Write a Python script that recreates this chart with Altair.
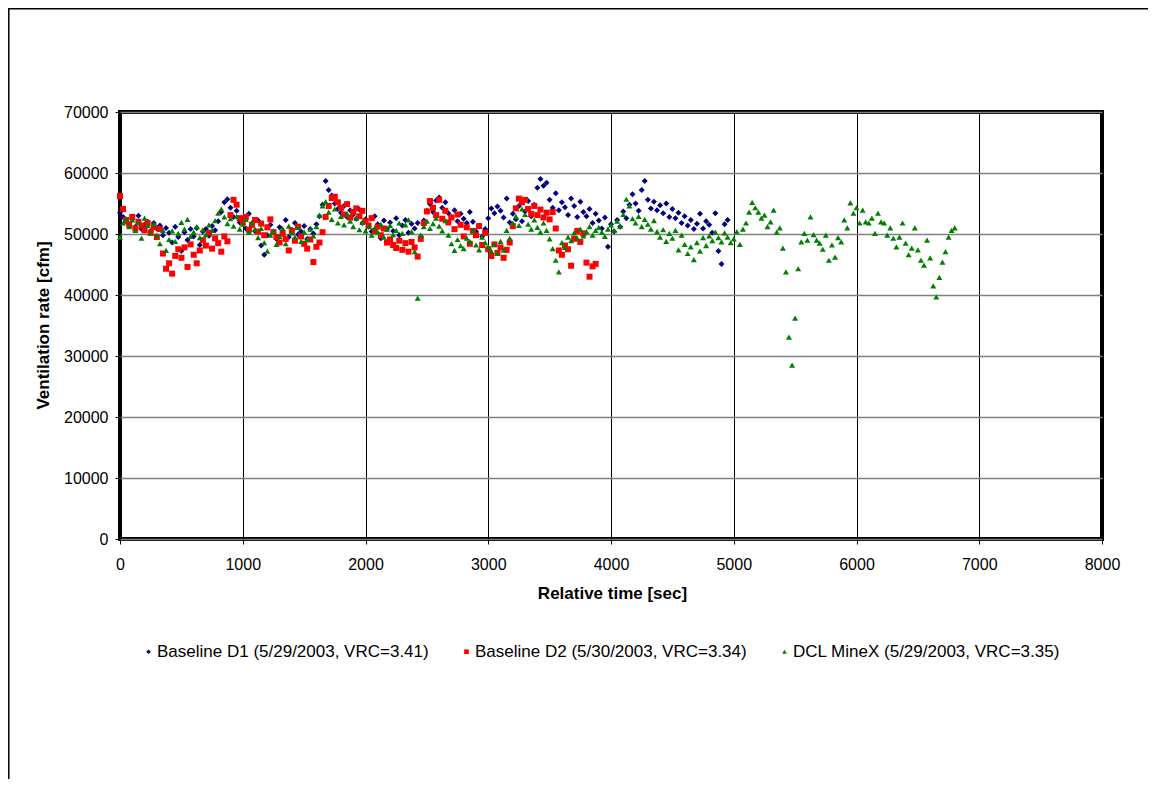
import altair as alt
import pandas as pd

# sampling interval of the logged data [sec]
sample_step_sec = 25

series_names = [
    "Baseline D1 (5/29/2003, VRC=3.41)",
    "Baseline D2 (5/30/2003, VRC=3.34)",
    "DCL MineX (5/29/2003, VRC=3.35)",
]
series_colors = ["#000080", "#FF0000", "#008000"]
series_shapes = ["diamond", "square", "triangle-up"]

# Baseline D1, t = 0 .. 4950 s
d1_cfm = [
    53500, 52800, 52100, 51600, 52400, 51200, 53000, 50800,
    51500, 52000, 50500, 51800, 50900, 51400, 49800, 51000,
    50200, 48600, 51200, 49500, 47200, 50300, 49000, 50800,
    49600, 51000, 48200, 50400, 50800, 49700, 51300, 50600,
    52100, 53600, 55200, 55700, 54300, 52800, 53800, 51900,
    52600, 50900, 53300, 51700, 50500, 52200, 48100, 46600,
    49800, 51500, 50300, 49200, 51100, 50000, 52300, 49500,
    50700, 51800, 49900, 50400, 51300, 49200, 50800, 50100,
    51600, 52900, 54800, 58700, 57200, 56300, 55000, 54100,
    53500, 54600, 52800, 53900, 53200, 52500, 54000, 51800,
    52400, 51200, 50400, 52900, 51600, 49300, 52200, 50800,
    51900, 50500, 52600, 49800, 51400, 52300, 50200, 51700,
    50900, 51800, 49600, 52200, 53800, 54900, 53600, 55500,
    56000, 54300, 55200, 53400, 52800, 53900, 52100, 53300,
    52500, 51800, 53600, 52000, 50400, 51300, 49600, 50800,
    52600, 54200, 53400, 54500, 53800, 52700, 55800, 51900,
    53300, 52400, 54600, 52100, 53700, 55400, 52900, 54800,
    57600, 59000, 57900, 58400, 55600, 54300, 56700, 53900,
    55200, 54400, 53100, 55800, 54600, 52800, 55300, 53600,
    52900, 54100, 51800, 53300, 52200, 50900, 52700, 47900,
    51600, 50400, 52300, 51200, 53700, 52600, 54800, 56500,
    55000, 53800, 57200, 58700, 55600, 54200, 55300, 53900,
    54700, 53400, 55000, 52800, 54100, 52600, 53500, 51800,
    52900, 51400, 52300, 50800, 51700, 53300, 50900, 52100,
    51500, 50200, 53400, 47200, 45100, 51600, 52300,
]

# Baseline D2, t = 0 .. 3875 s
d2_cfm = [
    56200, 54100, 52300, 51500, 52800, 50900, 52000, 51400,
    50600, 51800, 50200, 51100, 49500, 50800, 46800, 44300,
    45200, 43500, 46400, 47500, 46100, 47800, 44600, 48300,
    46600, 45200, 47300, 49000, 48100, 50200, 47600, 49300,
    48500, 47100, 49600, 48800, 53100, 55600, 54800, 52600,
    51900, 52800, 50700, 51500, 52300, 50400, 51700, 49800,
    51100, 52400, 50300, 49500, 48600, 50100, 49200, 47300,
    50500, 48900, 51200, 49600, 48400, 47600, 49100, 45400,
    47900, 48600, 50300, 52800, 54600, 55900, 56100, 55200,
    54300, 53200, 54900, 52700, 53600, 54200, 52900, 53800,
    52100, 51400, 52600, 50500, 51200, 49800, 50900, 48600,
    49100, 48200, 47700, 48900, 47400, 48500, 47100, 48700,
    47800, 46300, 49200, 51800, 53700, 55400, 54300, 53100,
    55600, 52500, 53800, 51900, 52700, 50800, 53200, 51500,
    49600, 51100, 48400, 50500, 49800, 51300, 48200, 50200,
    47500, 46400, 48300, 46900, 47800, 46100, 47400, 48600,
    51300, 54200, 55800, 55200, 55600, 54100, 53300, 54600,
    53100, 54000, 52700, 53500, 52400, 53600, 50900, 47300,
    46600, 48100, 47500, 44800, 49200, 50500, 48700, 50100,
    45300, 43000, 44700, 45100,
]

# DCL MineX, t = 0 .. 6800 s
mx_cfm = [
    49500, 51800, 52500, 51200, 52300, 50600, 51900, 49300,
    52600, 51400, 50200, 51700, 49800, 48400, 50600, 47300,
    49100, 50500, 48800, 50100, 51900, 50800, 52400, 49600,
    50300, 51200, 49400, 50700, 49900, 51500, 50600, 52200,
    53400, 54100, 52800, 51700, 52500, 51300, 52900, 50800,
    51600, 52400, 50300, 51900, 50800, 49400, 50900, 48600,
    47200, 49800, 50500, 48300, 49600, 50900, 48400, 51300,
    50200, 49500, 51100, 48800, 50300, 49100, 50800, 49700,
    51200, 53100, 54600, 55300, 53600, 52400, 54100, 51800,
    52900, 51500, 53300, 52100, 51200, 52600, 50700, 51900,
    50500, 51300, 49800, 51000, 50300, 51600, 49500, 50800,
    51400, 49900, 50600, 51800, 50100, 51500, 52300, 50400,
    47100, 39500, 49800, 51200, 52100, 50900, 51700, 52600,
    51300, 50500, 52200, 49800, 48400, 47300, 49100, 48100,
    47600, 49300, 48800, 50600, 48200, 47400, 49500, 48600,
    47900, 47200, 48300, 46800, 48800, 47400, 50600, 49300,
    51800, 52900, 51400, 54100, 53200, 51600, 50800, 52300,
    51100, 50300, 51800, 50600, 49200, 47600, 45700, 43800,
    48600, 47800, 49500, 48900, 50200, 49300, 50800, 49700,
    50400, 51200, 49800, 50600, 51100, 50300, 49600, 50800,
    51500, 50600, 52100, 51300, 53200, 55700, 54600, 52500,
    51800, 52900, 51200, 52400, 51600, 50800, 52200, 50400,
    49500, 50700, 48800, 50100, 49300, 50600, 47400, 49800,
    48300, 46800, 47900, 45800, 48600, 47200, 49400, 48100,
    49700, 48900, 50300, 49400, 48700, 50200, 49500, 48600,
    49200, 50400, 48300, 50800, 51800, 53600, 55200, 54300,
    53600, 52600, 53100, 51200, 52000, 53900, 50300, 51000,
    47700, 43800, 33100, 28500, 36200, 44300, 48700, 50100,
    49000, 52800, 49900, 49000, 48500, 47500, 49800, 45700,
    48200, 46200, 49400, 48700, 52300, 51000, 55100, 53400,
    54300, 51800, 53900, 52000, 51800, 52600, 50100, 53400,
    52000, 51800, 49800, 51000, 49300, 47900, 49500, 51800,
    48500, 46600, 47700, 51000, 47400, 45700, 44900, 49000,
    46100, 41500, 39700, 42900, 45400, 47100, 49500, 50600,
    51000,
]

rows = []
for name, vals in zip(series_names, [d1_cfm, d2_cfm, mx_cfm]):
    for i, v in enumerate(vals):
        rows.append({"time": i * sample_step_sec, "rate": v, "series": name})
df = pd.DataFrame(rows)

FONT = "Liberation Sans"
FS = 16
LFS = 17

legend = alt.Legend(
    title=None,
    orient="none",
    legendX=20,
    legendY=531,
    direction="horizontal",
    columns=3,
    columnPadding=29,
    labelOffset=0,
    symbolSize=22,
    labelFont=FONT,
    labelFontSize=LFS,
    labelColor="#000000",
    labelLimit=400,
)

points = alt.Chart(df).mark_point(filled=True, opacity=1, size=36, strokeWidth=0).encode(
    x=alt.X(
        "time:Q",
        scale=alt.Scale(domain=[0, 8000], nice=False),
        axis=alt.Axis(
            title="Relative time [sec]",
            values=[0, 1000, 2000, 3000, 4000, 5000, 6000, 7000, 8000],
            format="d",
            grid=True, gridColor="#000000", gridWidth=1,
            domain=False, ticks=True, tickColor="#000000", tickSize=5,
            labelFlush=False, labelOverlap=False,
            labelPadding=12, labelFont=FONT, labelFontSize=FS, labelColor="#000000",
            titleFont=FONT, titleFontSize=LFS, titleFontWeight="bold", titleColor="#000000",
            titleX=492, titleY=54, titleAlign="center", titleBaseline="middle",
        ),
    ),
    y=alt.Y(
        "rate:Q",
        scale=alt.Scale(domain=[0, 70000], nice=False),
        axis=alt.Axis(
            title="Ventilation rate [cfm]",
            values=[0, 10000, 20000, 30000, 40000, 50000, 60000, 70000],
            format="d",
            grid=True, gridColor="#808080", gridWidth=1.6,
            domain=False, ticks=True, tickColor="#000000", tickSize=5,
            labelFlush=False, labelOverlap=False,
            labelPadding=7, labelFont=FONT, labelFontSize=FS, labelColor="#000000",
            titleFont=FONT, titleFontSize=LFS, titleFontWeight="bold", titleColor="#000000",
            titleX=-77, titleY=213, titleAngle=270, titleAlign="center", titleBaseline="middle",
        ),
    ),
    color=alt.Color(
        "series:N",
        scale=alt.Scale(domain=series_names, range=series_colors),
        legend=legend,
    ),
    shape=alt.Shape(
        "series:N",
        scale=alt.Scale(domain=series_names, range=series_shapes),
        legend=legend,
    ),
)

frame = alt.Chart(pd.DataFrame({"k": [0]})).mark_rect(
    filled=False, stroke="#000000", strokeWidth=1.5
).encode(
    x=alt.value(-111.2), x2=alt.value(1200),
    y=alt.value(-103.2), y2=alt.value(900),
)

chart = alt.layer(frame, points).properties(
    width=982,
    height=427,
    autosize=alt.AutoSizeParams(type="none"),
    padding={"left": 112, "top": 104, "right": 46, "bottom": 240},
    background="#FFFFFF",
).configure_view(
    stroke="#000000", strokeWidth=4
)

chart.save("out.html", embed_options={"renderer": "svg", "actions": False})
